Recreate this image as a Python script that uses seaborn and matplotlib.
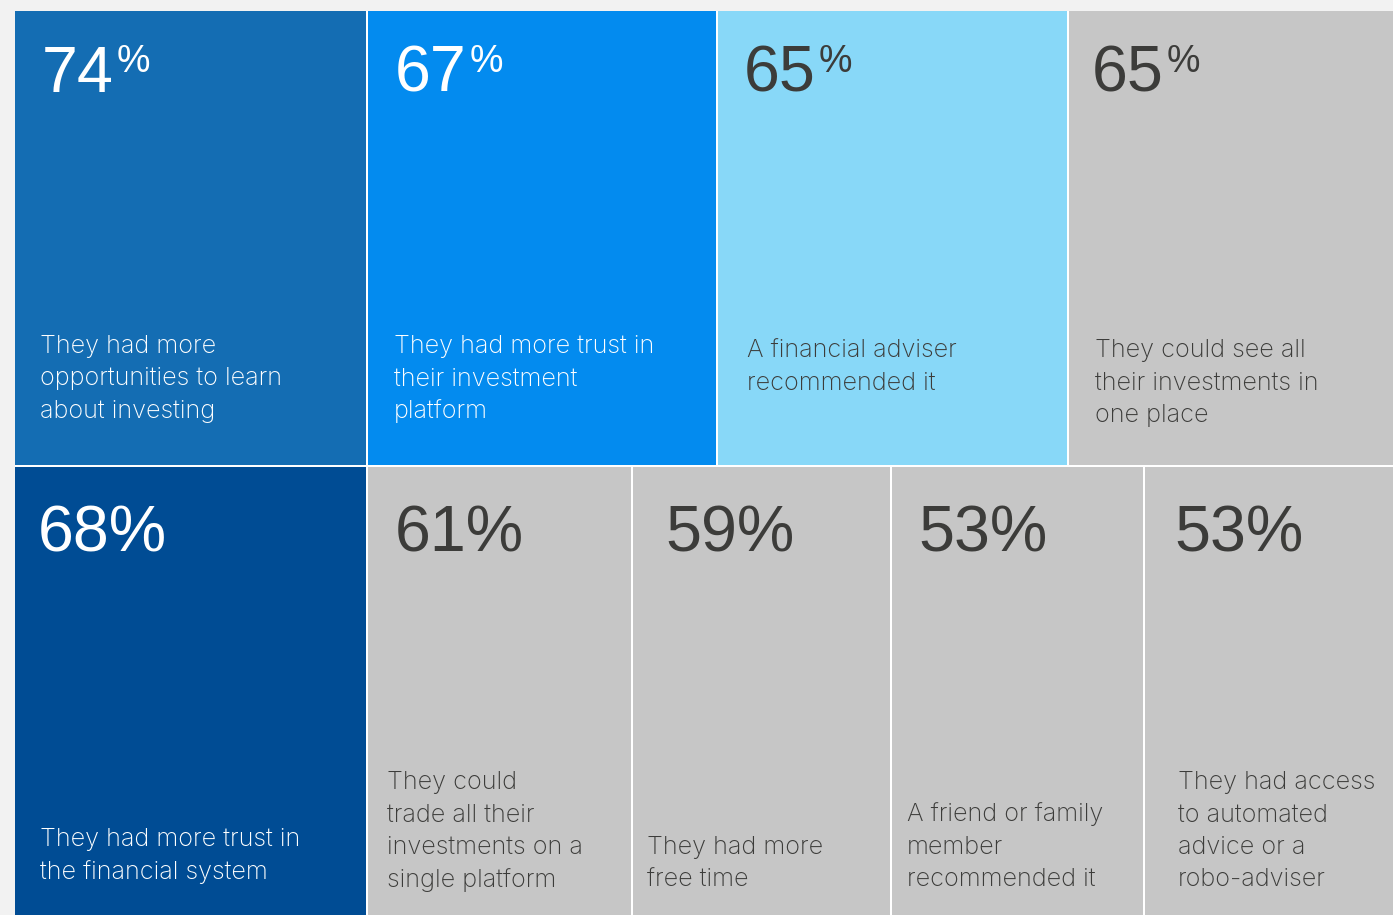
import matplotlib
matplotlib.use("Agg")
import matplotlib.pyplot as plt
import seaborn as sns

# Share of respondents who said they would invest more if ...
top_shares = [74, 67, 65, 65]
top_reasons = [
    "They had more\nopportunities to learn\nabout investing",
    "They had more trust in\ntheir investment\nplatform",
    "A financial adviser\nrecommended it",
    "They could see all\ntheir investments in\none place",
]
bottom_shares = [68, 61, 59, 53, 53]
bottom_reasons = [
    "They had more trust in\nthe financial system",
    "They could\ntrade all their\ninvestments on a\nsingle platform",
    "They had more\nfree time",
    "A friend or family\nmember\nrecommended it",
    "They had access\nto automated\nadvice or a\nrobo-adviser",
]

# ---- styling / layout (pixel space of a 1393x915 canvas) ----
W, H = 1393, 915
GAP = 1.6
DARK = "#3c3c3a"
top_colors = ["#146db3", "#038bef", "#88d8f8", "#c6c6c6"]
top_ink = ["white", "white", DARK, DARK]
bottom_colors = ["#004c94", "#c6c6c6", "#c6c6c6", "#c6c6c6", "#c6c6c6"]
bottom_ink = ["white", DARK, DARK, DARK, DARK]

top_edges = [15, 366, 716, 1067, 1400]
bottom_edges = [15, 366, 631, 890, 1143, 1400]
top_row = (11, 465.3)
bottom_row = (466.9, 930)

top_num_x = [42, 395, 744, 1092]
bottom_num_x = [38, 395, 665, 918, 1174]
top_num_base, bottom_num_base, pct_base = 92, 552, 72
top_text_x = [40, 394, 747, 1095]
top_text_y = [353, 353, 357, 357]
bottom_text_x = [40, 387, 647, 907, 1178]
bottom_text_y = [846, 789, 854, 821, 789]
LINE_STEP = 32.5

NUM_FONT = ["Liberation Sans", "DejaVu Sans"]
TEXT_FONT = ["Inter", "Roboto", "DejaVu Sans"]
NUM_SIZE, PCT_SIZE, TEXT_SIZE = 46.5, 27, 18.2

sns.set_theme(style="white")
plt.rcParams["font.family"] = TEXT_FONT

fig = plt.figure(figsize=(W / 100, H / 100), dpi=100, facecolor="#f2f2f2")
ax = fig.add_axes([0, 0, 1, 1])
ax.set_xlim(0, W)
ax.set_ylim(H, 0)
ax.axis("off")

# white backing so the seams between tiles read as thin white rules
ax.bar([15], [H + 20 - 11], width=[W + 20 - 15], bottom=[11],
       align="edge", color="white", linewidth=0)


def tiles(edges, row, colors):
    lefts, widths = [], []
    for i in range(len(edges) - 1):
        left = edges[i] + (GAP if i > 0 else 0)
        lefts.append(left)
        widths.append(edges[i + 1] - left)
    ax.bar(lefts, [row[1] - row[0]] * len(lefts), width=widths,
           bottom=[row[0]] * len(lefts), align="edge", color=colors,
           linewidth=0)


tiles(top_edges, top_row, top_colors)
tiles(bottom_edges, bottom_row, bottom_colors)


def reason(x, y0, text, ink):
    for k, line in enumerate(text.split("\n")):
        ax.text(x, y0 + k * LINE_STEP, line, color=ink, fontsize=TEXT_SIZE,
                fontweight="light", family=TEXT_FONT,
                ha="left", va="baseline")


fig.canvas.draw()
renderer = fig.canvas.get_renderer()
inv = ax.transData.inverted()

# top row: number with a raised percent sign
for share, x, ink in zip(top_shares, top_num_x, top_ink):
    t = ax.text(x, top_num_base, f"{share}", color=ink, fontsize=NUM_SIZE,
                family=NUM_FONT, ha="left", va="baseline")
    bb = t.get_window_extent(renderer)
    x_end = inv.transform((bb.x1, bb.y0))[0]
    ax.text(x_end + 3, pct_base, "%", color=ink, fontsize=PCT_SIZE,
            family=NUM_FONT, ha="left", va="baseline")

for share, x, ink in zip(bottom_shares, bottom_num_x, bottom_ink):
    ax.text(x, bottom_num_base, f"{share}%", color=ink, fontsize=NUM_SIZE,
            family=NUM_FONT, ha="left", va="baseline")

for text, x, y, ink in zip(top_reasons, top_text_x, top_text_y, top_ink):
    reason(x, y, text, ink)
for text, x, y, ink in zip(bottom_reasons, bottom_text_x, bottom_text_y, bottom_ink):
    reason(x, y, text, ink)

fig.savefig("out.png", dpi=100, facecolor=fig.get_facecolor())
